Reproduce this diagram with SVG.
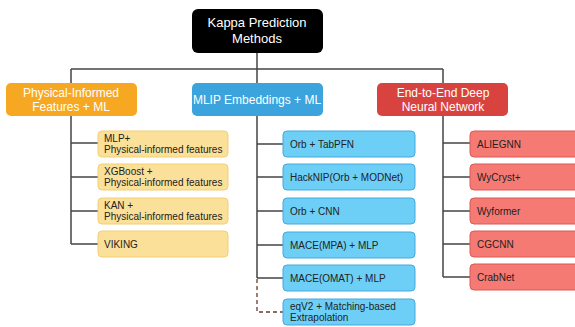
<svg xmlns="http://www.w3.org/2000/svg" width="575" height="327" viewBox="0 0 575 327">
  <style>
    .hdr { font-family: "Liberation Sans", Arial, sans-serif; font-size: 12px; fill: #ffffff; text-anchor: middle; }
    .root { font-family: "Liberation Sans", Arial, sans-serif; font-size: 13px; fill: #ffffff; text-anchor: middle; }
    .leaf { font-family: "Liberation Sans", Arial, sans-serif; font-size: 10px; fill: #222222; }
    .wire { fill: none; stroke: #444444; stroke-width: 1.5; }
    .dash { fill: none; stroke: #6b3a2a; stroke-width: 1.3; stroke-dasharray: 4 3; }
    .y { fill: #fbe09a; stroke: #f2cf73; stroke-width: 1; }
    .b { fill: #6dcff6; stroke: #45a9df; stroke-width: 1; }
    .r { fill: #f57a74; stroke: #d85a55; stroke-width: 1; }
  </style>

  <!-- connectors -->
  <g id="connectors">
    <path class="wire" d="M257 53 V69 M71 69 H443 M71 69 V83 M257 69 V83 M443 69 V83"/>
    <!-- physical-informed branch -->
    <path class="wire" d="M71 116 V244 M71 143 H98 M71 177 H98 M71 211 H98 M71 244 H98"/>
    <!-- MLIP branch -->
    <path class="wire" d="M257 116 V278 M257 144 H283 M257 177 H283 M257 211 H283 M257 245 H283 M257 278 H283"/>
    <path class="dash" d="M257 279 V312 H283"/>
    <!-- end-to-end branch -->
    <path class="wire" d="M443 116 V277 M443 143 H470 M443 177 H470 M443 211 H470 M443 244 H470 M443 277 H470"/>
  </g>

  <g id="root">
    <rect x="192" y="9" width="131" height="44" rx="6" fill="#000000"/>
    <text class="root" x="257" y="27">Kappa Prediction</text>
    <text class="root" x="257" y="43">Methods</text>
  </g>

  <g id="physical">
    <rect x="6" y="83" width="131" height="33" rx="5" fill="#f7a823"/>
    <text class="hdr" x="71" y="97">Physical-Informed</text>
    <text class="hdr" x="71" y="111">Features + ML</text>
  </g>
  <g id="mlip">
    <rect x="192" y="83" width="131" height="33" rx="5" fill="#3ba4dc"/>
    <text class="hdr" x="257" y="104">MLIP Embeddings + ML</text>
  </g>
  <g id="e2e">
    <rect x="377" y="83" width="131" height="33" rx="5" fill="#d9433f"/>
    <text class="hdr" x="443" y="97">End-to-End Deep</text>
    <text class="hdr" x="443" y="111">Neural Network</text>
  </g>

  <!-- physical-informed leaves -->
  <g id="mlp">
    <rect class="y" x="98" y="131" width="130" height="26" rx="4"/>
    <text class="leaf" x="104" y="142">MLP+</text>
    <text class="leaf" x="104" y="153">Physical-informed features</text>
  </g>
  <g id="xgboost">
    <rect class="y" x="98" y="164" width="130" height="26" rx="4"/>
    <text class="leaf" x="104" y="175">XGBoost +</text>
    <text class="leaf" x="104" y="186">Physical-informed features</text>
  </g>
  <g id="kan">
    <rect class="y" x="98" y="198" width="130" height="26" rx="4"/>
    <text class="leaf" x="104" y="209">KAN +</text>
    <text class="leaf" x="104" y="220">Physical-informed features</text>
  </g>
  <g id="viking">
    <rect class="y" x="98" y="231" width="130" height="26" rx="4"/>
    <text class="leaf" x="104" y="248">VIKING</text>
  </g>

  <!-- MLIP leaves -->
  <g id="orb-tabpfn">
    <rect class="b" x="283" y="131" width="132" height="26" rx="4"/>
    <text class="leaf" x="290" y="148">Orb + TabPFN</text>
  </g>
  <g id="hacknip">
    <rect class="b" x="283" y="164" width="132" height="26" rx="4"/>
    <text class="leaf" x="290" y="181">HackNIP(Orb + MODNet)</text>
  </g>
  <g id="orb-cnn">
    <rect class="b" x="283" y="198" width="132" height="26" rx="4"/>
    <text class="leaf" x="290" y="215">Orb + CNN</text>
  </g>
  <g id="mace-mpa">
    <rect class="b" x="283" y="232" width="132" height="26" rx="4"/>
    <text class="leaf" x="290" y="249">MACE(MPA) + MLP</text>
  </g>
  <g id="mace-omat">
    <rect class="b" x="283" y="265" width="132" height="26" rx="4"/>
    <text class="leaf" x="290" y="282">MACE(OMAT) + MLP</text>
  </g>
  <g id="eqv2">
    <rect class="b" x="283" y="299" width="132" height="26" rx="4"/>
    <text class="leaf" x="290" y="310">eqV2 + Matching-based</text>
    <text class="leaf" x="290" y="321">Extrapolation</text>
  </g>

  <!-- end-to-end leaves -->
  <g id="aliegnn">
    <rect class="r" x="470" y="131" width="132" height="26" rx="4"/>
    <text class="leaf" x="477" y="148">ALIEGNN</text>
  </g>
  <g id="wycryst">
    <rect class="r" x="470" y="164" width="132" height="26" rx="4"/>
    <text class="leaf" x="477" y="181">WyCryst+</text>
  </g>
  <g id="wyformer">
    <rect class="r" x="470" y="198" width="132" height="26" rx="4"/>
    <text class="leaf" x="477" y="215">Wyformer</text>
  </g>
  <g id="cgcnn">
    <rect class="r" x="470" y="231" width="132" height="26" rx="4"/>
    <text class="leaf" x="477" y="248">CGCNN</text>
  </g>
  <g id="crabnet">
    <rect class="r" x="470" y="264" width="132" height="26" rx="4"/>
    <text class="leaf" x="477" y="281">CrabNet</text>
  </g>
</svg>
